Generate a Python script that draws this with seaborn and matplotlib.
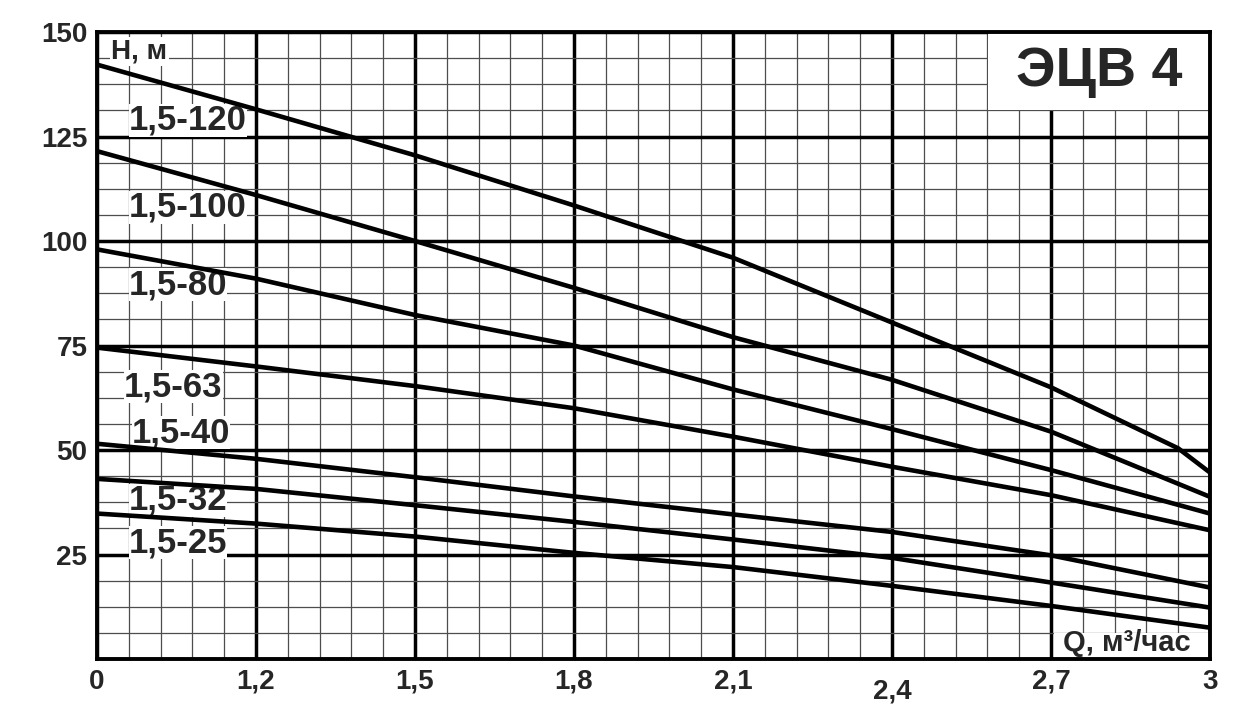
import numpy as np
import pandas as pd
import seaborn as sns
import matplotlib.pyplot as plt
from matplotlib.patches import Rectangle
from matplotlib.transforms import ScaledTranslation

# Q axis is drawn on an even grid of positions, labels are the real flow values
Q_LABELS = ['0', '1,2', '1,5', '1,8', '2,1', '2,4', '2,7', '3']
Q_POS = [0, 1, 2, 3, 4, 5, 6, 7]
Q_POS_120 = [0, 1, 2, 3, 4, 5, 6, 6.8, 7]

H_120 = [142.2, 131.5, 120.5, 108.5, 96.0, 80.5, 65.0, 50.4, 44.6]
H_100 = [121.5, 111.0, 100.0, 88.8, 77.0, 66.8, 54.4, 38.8]
H_80 = [98.0, 91.0, 82.3, 75.0, 64.5, 55.0, 45.2, 34.8]
H_63 = [74.5, 70.0, 65.3, 60.0, 53.2, 46.0, 39.2, 30.8]
H_40 = [51.5, 47.9, 43.5, 38.9, 34.6, 30.4, 24.8, 17.1]
H_32 = [43.1, 40.7, 36.8, 32.8, 28.6, 24.2, 18.3, 12.3]
H_25 = [34.8, 32.4, 29.3, 25.4, 22.0, 17.5, 12.7, 7.5]

PUMPS = ['1,5-120', '1,5-100', '1,5-80', '1,5-63', '1,5-40', '1,5-32', '1,5-25']
H_TICKS = [25, 50, 75, 100, 125, 150]

curves = {
    '1,5-120': (Q_POS_120, H_120),
    '1,5-100': (Q_POS, H_100),
    '1,5-80': (Q_POS, H_80),
    '1,5-63': (Q_POS, H_63),
    '1,5-40': (Q_POS, H_40),
    '1,5-32': (Q_POS, H_32),
    '1,5-25': (Q_POS, H_25),
}
rows = []
for name in PUMPS:
    qs, hs = curves[name]
    for q, h in zip(qs, hs):
        rows.append({'pump': name, 'q': q, 'h': h})
df = pd.DataFrame(rows)

sns.set_theme(style='white')
plt.rcParams['font.family'] = ['Liberation Sans', 'DejaVu Sans']
plt.rcParams['font.weight'] = 'bold'

fig = plt.figure(figsize=(12.53, 7.05), dpi=100)
ax = fig.add_axes([0.0774, 0.0652, 0.8883, 0.8894])

sns.lineplot(data=df, x='q', y='h', hue='pump', palette=['black'] * len(PUMPS),
             estimator=None, sort=False, legend=False, lw=3.3, ax=ax,
             solid_joinstyle='round', solid_capstyle='butt')

ax.set_xlim(0, 7)
ax.set_ylim(0, 150)
ax.set_xlabel('')
ax.set_ylabel('')

ax.set_xticks(Q_POS, Q_LABELS)
ax.set_xticks(np.arange(0, 7.01, 0.2), minor=True)
ax.set_yticks(H_TICKS, [str(t) for t in H_TICKS])
ax.set_yticks(np.arange(0, 150.1, 6.25), minor=True)
ax.tick_params(which='both', length=0)
ax.tick_params(axis='x', pad=7, labelsize=20)
ax.tick_params(axis='y', pad=7, labelsize=20)
for lab in ax.get_xticklabels() + ax.get_yticklabels():
    lab.set_fontweight('bold')

# the 2,4 label sits a little lower in the original
xl = ax.get_xticklabels()
xl[5].set_transform(xl[5].get_transform() + ScaledTranslation(0, -0.1, fig.dpi_scale_trans))

ax.set_axisbelow(True)
ax.grid(which='minor', color='0.3', lw=0.9)
ax.grid(which='major', color='black', lw=2.5)
for sp in ax.spines.values():
    sp.set_visible(True)
    sp.set_color('black')
    sp.set_linewidth(2.8)

# white boxes over the grid
ax.add_patch(Rectangle((5.605, 131.25), 1.4, 18.75, facecolor='white', edgecolor='none', zorder=1))
ax.add_patch(Rectangle((6.02, 0), 0.98, 6.2, facecolor='white', edgecolor='none', zorder=1))
ax.text(6.3, 140.4, 'ЭЦВ 4', fontsize=40, fontweight='bold', ha='center', va='center', zorder=3)
ax.text(6.875, 0.5, 'Q, м³/час', fontsize=21, fontweight='bold', ha='right', va='bottom', zorder=3)
ax.text(0.09, 145.3, 'H, м', fontsize=20, fontweight='bold', ha='left', va='center', zorder=1.5,
        bbox=dict(facecolor='white', edgecolor='none', pad=1))

label_q = [0.2, 0.2, 0.2, 0.17, 0.22, 0.2, 0.2]
label_h = [128.9, 108.1, 89.5, 65.1, 54.1, 38.0, 27.8]
for name, q, h in zip(PUMPS, label_q, label_h):
    ax.text(q, h, name, fontsize=25, fontweight='bold', ha='left', va='center', zorder=1.5,
            bbox=dict(facecolor='white', edgecolor='none', pad=0))

fig.savefig('out.png', dpi=100)
